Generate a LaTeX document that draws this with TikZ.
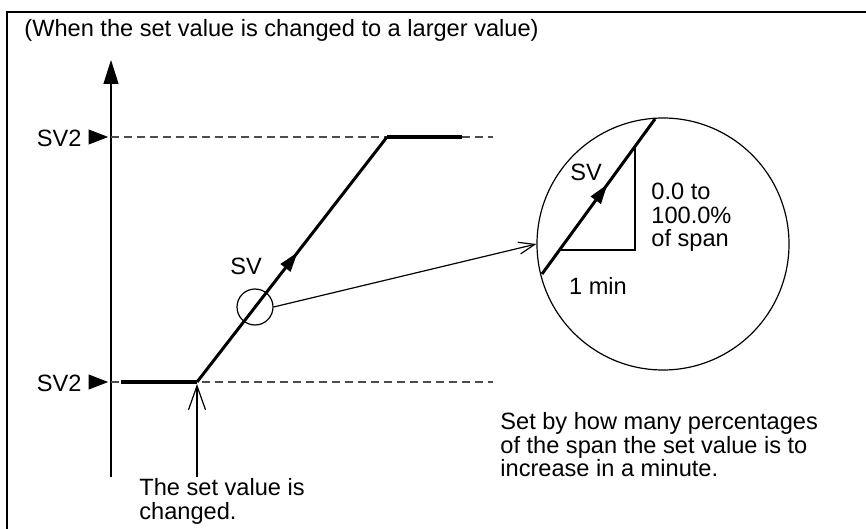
\documentclass[tikz,border=0pt]{standalone}
\usepackage{fontspec}
\setmainfont{Liberation Sans}
\usetikzlibrary{arrows.meta,decorations.markings}

\begin{document}
\begin{tikzpicture}[
        x=0.5pt, y=-0.5pt,
        font=\fontsize{11.8}{11.75}\selectfont,
        txt/.style={inner sep=0pt, align=left},
        level/.style={dashed, dash pattern=on 4pt off 2.5pt, black!70, line width=0.6pt},
        hold/.style={line width=2pt},
        ramp/.style={
            line width=1.5pt, postaction={decorate},
            decoration={markings, mark=at position #1 with
                {\arrow{Triangle[length=10pt,width=6pt]}}}
        },
        lens/.style={circle, draw, line width=0.6pt, inner sep=0pt},
        pointer/.style={-{Straight Barb[length=12pt,width=8.5pt]}, line width=0.6pt},
        marker/.style={fill=black}
    ]
    \useasboundingbox (0,0) rectangle (866,529);

    % Frame and title
    \draw[line width=1pt] (7,560) -- (7,12) -- (900,12);
    \node[txt, anchor=base west] (title) at (24,37)
        {(When the set value is changed to a larger value)};

    % Axis
    \coordinate (origin) at (111,477);
    \coordinate (axistop) at (111,60);
    \draw[line width=0.6pt, -{Triangle[length=12pt,width=7.5pt]}] (origin) -- (axistop);

    % Levels
    \coordinate (lowleft) at (111,382);
    \coordinate (lowright) at (493,382);
    \coordinate (highleft) at (111,137);
    \coordinate (highright) at (493,137);
    \draw[level] (lowleft) -- (lowright);
    \draw[level] (highleft) -- (highright);

    \node[txt, anchor=east] (sv2low) at (82,383) {SV2};
    \node[txt, anchor=east] (sv2high) at (82,138) {SV2};
    \draw[marker] (89,375) -- (107,382) -- (89,389) -- cycle;
    \draw[marker] (89,130) -- (107,137) -- (89,144) -- cycle;

    % Set value curve
    \coordinate (holdstart) at (121,382);
    \coordinate (change) at (197,382);
    \coordinate (reach) at (387,137);
    \coordinate (holdend) at (462,137);
    \draw[hold] (holdstart) -- (change);
    \draw[ramp=0.53, line join=round] (change) -- (reach);
    \draw[hold] (reach) -- (holdend);
    \node[txt] (svlabel) at (246,266) {SV};

    % Moment of change
    \node[txt, anchor=north west] (changenote) at (139,478)
        {The set value is\\changed.};
    \draw[pointer] (changenote.north west -| change) ++(0,-1) coordinate (notetop)
        (notetop) -- ([yshift=-1pt]change);

    % Magnified detail
    \node[lens, minimum size=18pt] (zoomin) at (255,307) {};
    \node[lens, minimum size=126pt] (detail) at (663,244) {};
    \draw[pointer, -{Straight Barb[length=8pt,width=6pt]}] (zoomin.east) -- (detail.west);

    \coordinate (slopelow) at (542,274);
    \coordinate (slopehigh) at (655,119);
    \coordinate (runstart) at (560,250);
    \coordinate (corner) at (635,250);
    \coordinate (risetop) at (635,148);
    \draw[ramp=0.58] (slopelow) -- (slopehigh);
    \draw[line width=0.6pt] (runstart) -- (corner) -- (risetop);
    \node[txt] (svdetail) at (586,172) {SV};
    \node[txt, anchor=north west] (spanlabel) at (651,183)
        {0.0 to\\100.0\%\\of span};
    \node[txt] (minlabel) at (598,286) {1 min};

    % Explanation
    \node[txt, anchor=north west] (explain) at (500,412)
        {Set by how many percentages\\of the span the set value is to\\increase in a minute.};
\end{tikzpicture}
\end{document}
